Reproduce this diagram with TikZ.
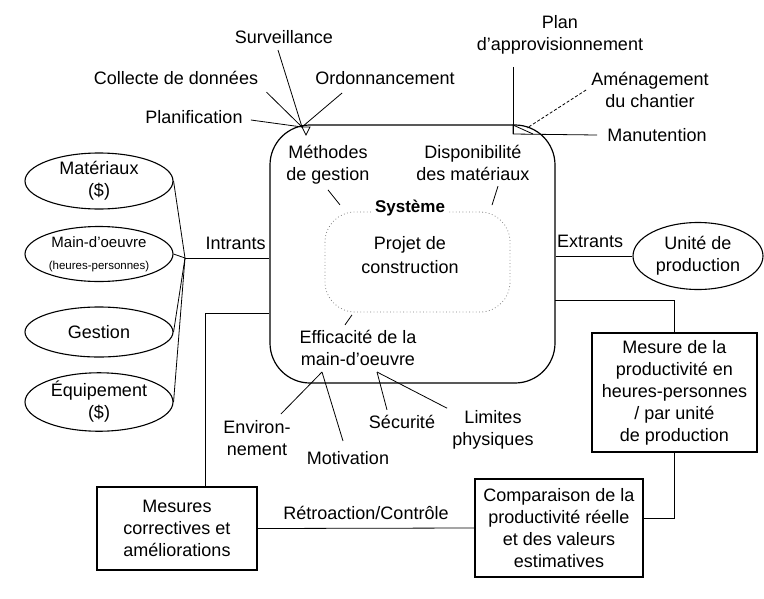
\documentclass[tikz,border=0pt]{standalone}
\usepackage{fontspec}
\setmainfont{Liberation Sans}
\usetikzlibrary{shapes.geometric}

\begin{document}
\begin{tikzpicture}
  [x=1pt,y=-1pt,line width=.8pt,
   every node/.style={font=\fontsize{18}{22}\selectfont,align=center,inner sep=0pt},
   oval/.style={ellipse,draw,line width=1.1pt,minimum width=148pt},
   box/.style={rectangle,draw,line width=1.1pt}]
  \useasboundingbox (0,0) rectangle (764,598);

  % systeme
  \node[draw,line width=1.2pt,rounded corners=40pt,minimum width=285pt,minimum height=258pt] (sys) at (412.5,254) {};
  \draw[gray,dash pattern=on .8pt off 2.5pt,rounded corners=30pt] (325,212) rectangle (510,312);
  \node[fill=white,inner sep=2pt,font=\fontsize{17}{22}\selectfont\bfseries] (syst) at (410,208) {Système};
  \node (proj) at (410,255) {Projet de\\[2pt]construction};
  \node (meth) at (328,165) {Méthodes\\de gestion};
  \node (disp) at (473,163) {Disponibilité\\des matériaux};
  \node (effi) at (358,348) {Efficacité de la\\main-d'oeuvre};
  \draw ([yshift=-5pt]meth.south) -- ++(12,15);
  \draw ([xshift=25pt,yshift=-5pt]disp.south) -- ++(-6,19);
  \draw ([xshift=-13pt,yshift=5pt]effi.north) -- ++(7,-10);

  % haut gauche
  \coordinate (tl) at (302,127);
  \node (surv) at (284,37) {Surveillance};
  \node (coll) at (176,78) {Collecte de données};
  \node (ordo) at (385,78) {Ordonnancement};
  \node (plan) at (194,117) {Planification};
  \draw ([xshift=-6pt,yshift=-6pt]surv.south) -- (tl);
  \draw ([xshift=8pt,yshift=-7pt]coll.south east) -- (tl);
  \draw ([xshift=27pt,yshift=-8pt]ordo.south west) -- (tl);
  \draw ([xshift=8pt,yshift=-3pt]plan.east) -- (tl);
  \draw (tl) -- ++(8,0) -- ++(-4,8) -- cycle;

  % haut droite
  \coordinate (tr) at (513,134);
  \coordinate (tr2) at (527,128);
  \node (appro) at (560,35) {Plan\\d'approvisionnement};
  \node (amen) at (650,90) {Aménagement\\du chantier};
  \node (manu) at (657,135) {Manutention};
  \draw ([yshift=-12pt]appro.south -| tr) -- (tr);
  \draw[densely dashed] ([xshift=-5pt]amen.west) -- (tr2);
  \draw (tr) -- ([xshift=-10pt]manu.west);
  \draw (tr) -- ++(0,-9) -- ++(20,9);

  % intrants
  \node[oval,minimum height=56pt] (mat) at (99,181) {Matériaux\\(\$)};
  \node[oval,minimum height=55pt] (mdo) at (99,254)
    {\fontsize{15}{18}\selectfont Main-d'oeuvre\\\fontsize{11.5}{14}\selectfont (heures-personnes)};
  \node[oval,minimum height=50pt] (ges) at (99,332) {Gestion};
  \node[oval,minimum height=56pt] (equ) at (99,402) {Équipement\\(\$)};
  \coordinate (junc) at (185,258);
  \foreach \e in {mat,mdo,ges,equ}
    \draw (\e.east) -- (junc);
  \draw (junc) -- (junc -| sys.west) node[pos=.6,above=8pt] {Intrants};

  % extrants
  \node[oval,minimum width=130pt,minimum height=67pt] (unite) at (698,256) {Unité de\\production};
  \draw (sys.east |- unite) -- (unite.west) node[pos=.45,above=8pt] {Extrants};

  % mesure et retroaction
  \node[box,minimum width=165pt,minimum height=119pt] (mes) at (674.5,392.5)
    {Mesure de la\\productivité en\\heures-personnes\\/ par unité\\de production};
  \node[box,minimum width=168pt,minimum height=98pt] (comp) at (559,528)
    {Comparaison de la\\productivité réelle\\et des valeurs\\estimatives};
  \node[box,minimum width=160pt,minimum height=83pt] (corr) at (177,528.5)
    {Mesures\\correctives et\\améliorations};
  \coordinate (sortie) at (555,300);
  \coordinate (fb) at (205,313);
  \draw (sortie) -| (mes.north);
  \draw (mes.south) |- ([yshift=10pt]comp.east);
  \draw (corr.east) -- (comp.west) node[midway,above=8pt] {Rétroaction/Contrôle};
  \draw (corr.north -| fb) -- (fb) -- (fb -| sys.west);

  % facteurs du bas
  \coordinate (bl) at (322,372);
  \coordinate (br) at (377,372);
  \node (env) at (257,438) {Environ-\\nement};
  \node (mot) at (348,458) {Motivation};
  \node (secu) at (402,422) {Sécurité};
  \node (lim) at (493,430) {Limites\\physiques};
  \draw (bl) -- ([xshift=-10pt,yshift=6pt]env.north east);
  \draw (bl) -- ([xshift=-5pt,yshift=10pt]mot.north);
  \draw (br) -- ([xshift=-15pt,yshift=5pt]secu.north);
  \draw (br) -- ([xshift=-5pt,yshift=2pt]lim.north west);
\end{tikzpicture}
\end{document}
